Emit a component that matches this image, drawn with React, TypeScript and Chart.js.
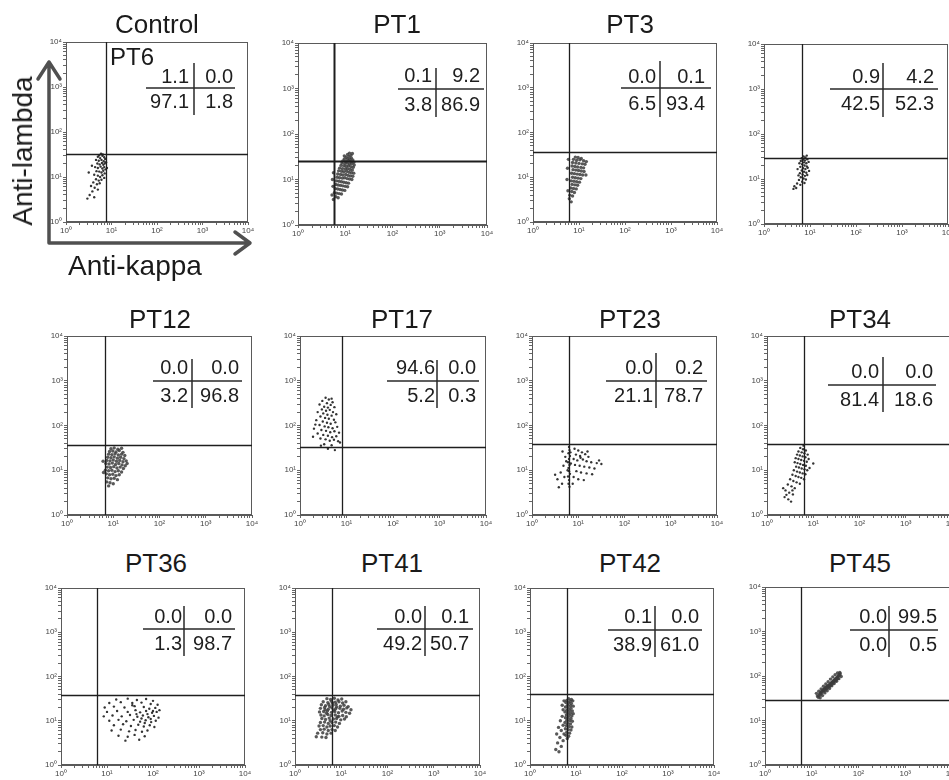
import { useEffect, useRef } from 'react';
import { Chart, registerables } from 'chart.js';

Chart.register(...registerables);

// ---------------- DATA ----------------
// Panel order: row by row (4 per row)
const PANEL_IDS = ['Control', 'PT1', 'PT3', 'PT6', 'PT12', 'PT17', 'PT23', 'PT34', 'PT36', 'PT41', 'PT42', 'PT45'];
// Titles printed above each panel (PT6's label sits inside the Control panel in the original)
const PANEL_TITLES = ['Control', 'PT1', 'PT3', '', 'PT12', 'PT17', 'PT23', 'PT34', 'PT36', 'PT41', 'PT42', 'PT45'];
const STRAY_LABEL = 'PT6';

// Quadrant percentages: [upper-left, upper-right, lower-left, lower-right]
const QUADRANTS: [string, string, string, string][] = [
  ['1.1', '0.0', '97.1', '1.8'],
  ['0.1', '9.2', '3.8', '86.9'],
  ['0.0', '0.1', '6.5', '93.4'],
  ['0.9', '4.2', '42.5', '52.3'],
  ['0.0', '0.0', '3.2', '96.8'],
  ['94.6', '0.0', '5.2', '0.3'],
  ['0.0', '0.2', '21.1', '78.7'],
  ['0.0', '0.0', '81.4', '18.6'],
  ['0.0', '0.0', '1.3', '98.7'],
  ['0.0', '0.1', '49.2', '50.7'],
  ['0.1', '0.0', '38.9', '61.0'],
  ['0.0', '99.5', '0.0', '0.5'],
];

// Quadrant gate positions (in decades, log10 of fluorescence)
const GATE_KAPPA = [0.88, 0.76, 0.78, 0.83, 0.82, 0.9, 0.8, 0.79, 0.78, 0.8, 0.8, 0.76];
const GATE_LAMBDA = [1.51, 1.41, 1.56, 1.47, 1.56, 1.52, 1.59, 1.59, 1.58, 1.58, 1.6, 1.45];

// Axis decades and tick labels
const DECADES = [0, 1, 2, 3, 4];
const DECADE_LABELS = ['10⁰', '10¹', '10²', '10³', '10⁴'];
const MINOR_MANTISSAS = [2, 3, 4, 5, 6, 7, 8, 9];

// Events: [log10 anti-kappa, log10 anti-lambda]
const CONTROL_EVENTS: [number, number][] = [
  [0.70, 1.45], [0.75, 1.42], [0.80, 1.47], [0.84, 1.44], [0.66, 1.38], [0.72, 1.36], [0.78, 1.38], [0.83, 1.35],
  [0.86, 1.40], [0.69, 1.30], [0.74, 1.28], [0.79, 1.31], [0.82, 1.27], [0.85, 1.30], [0.64, 1.22], [0.70, 1.20],
  [0.76, 1.23], [0.80, 1.19], [0.84, 1.22], [0.87, 1.17], [0.67, 1.13], [0.73, 1.12], [0.78, 1.10], [0.82, 1.14],
  [0.85, 1.08], [0.62, 1.05], [0.70, 1.03], [0.75, 1.00], [0.80, 1.04], [0.84, 0.98], [0.66, 0.95], [0.72, 0.92],
  [0.78, 0.94], [0.60, 0.88], [0.68, 0.84], [0.74, 0.86], [0.55, 0.80], [0.63, 0.76], [0.70, 0.72], [0.58, 0.68],
  [0.52, 0.60], [0.47, 0.52], [0.62, 0.55], [0.77, 1.52], [0.90, 1.20], [0.50, 1.10], [0.57, 1.25], [0.81, 1.50],
  [0.73, 1.48], [0.88, 1.33],
];
const PT1_EVENTS: [number, number][] = [
  [1.02, 1.49], [1.08, 1.50], [1.13, 1.47], [0.98, 1.45], [1.05, 1.45], [1.10, 1.44], [1.16, 1.43], [0.95, 1.41],
  [1.01, 1.40], [1.07, 1.41], [1.12, 1.39], [1.18, 1.38], [0.93, 1.36], [0.99, 1.35], [1.04, 1.36], [1.09, 1.34],
  [1.14, 1.35], [1.19, 1.32], [0.91, 1.31], [0.97, 1.30], [1.02, 1.29], [1.07, 1.30], [1.12, 1.28], [1.17, 1.27],
  [0.88, 1.25], [0.94, 1.24], [1.00, 1.23], [1.05, 1.24], [1.10, 1.22], [1.15, 1.21], [0.86, 1.19], [0.92, 1.18],
  [0.97, 1.17], [1.03, 1.18], [1.08, 1.16], [1.13, 1.15], [1.18, 1.14], [0.84, 1.12], [0.90, 1.11], [0.95, 1.10],
  [1.01, 1.11], [1.06, 1.09], [1.11, 1.08], [1.16, 1.07], [0.83, 1.05], [0.88, 1.04], [0.94, 1.03], [0.99, 1.04],
  [1.04, 1.02], [1.09, 1.01], [1.14, 1.00], [0.82, 0.97], [0.87, 0.96], [0.92, 0.95], [0.97, 0.94], [1.02, 0.93],
  [1.07, 0.92], [0.80, 0.89], [0.85, 0.88], [0.90, 0.87], [0.95, 0.86], [1.00, 0.85], [1.05, 0.84], [0.79, 0.80],
  [0.84, 0.79], [0.89, 0.78], [0.94, 0.77], [0.99, 0.76], [0.77, 0.71], [0.82, 0.70], [0.87, 0.69], [0.92, 0.68],
  [0.80, 0.62], [0.85, 0.60], [0.75, 0.56], [0.72, 0.66], [0.74, 0.85], [0.73, 1.00], [0.75, 1.15], [1.05, 1.55],
  [1.12, 1.53], [0.98, 1.52], [1.15, 1.57], [1.09, 1.58],
];
const PT3_EVENTS: [number, number][] = [
  [0.92, 1.45], [0.98, 1.44], [1.05, 1.42], [0.88, 1.40], [0.95, 1.38], [1.02, 1.39], [1.10, 1.37], [0.86, 1.33],
  [0.93, 1.32], [1.00, 1.31], [1.07, 1.30], [1.13, 1.29], [0.85, 1.25], [0.91, 1.24], [0.97, 1.23], [1.04, 1.22],
  [1.10, 1.21], [0.87, 1.17], [0.93, 1.16], [0.99, 1.15], [1.05, 1.14], [1.11, 1.13], [0.84, 1.09], [0.90, 1.08],
  [0.96, 1.07], [1.02, 1.06], [1.08, 1.05], [0.86, 1.00], [0.92, 0.99], [0.98, 0.98], [1.04, 0.97], [0.83, 0.92],
  [0.89, 0.91], [0.95, 0.90], [1.01, 0.89], [0.85, 0.84], [0.91, 0.83], [0.97, 0.82], [0.82, 0.76], [0.88, 0.75],
  [0.94, 0.74], [0.84, 0.68], [0.90, 0.66], [0.80, 0.60], [0.86, 0.58], [0.79, 0.52], [0.83, 0.45], [0.76, 0.70],
  [0.74, 0.95], [0.75, 1.20], [1.15, 1.05], [1.16, 1.35], [0.77, 1.40],
];
const PT6_EVENTS: [number, number][] = [
  [0.86, 1.50], [0.90, 1.48], [0.82, 1.46], [0.93, 1.52], [0.85, 1.43], [0.89, 1.41], [0.94, 1.44], [0.80, 1.40],
  [0.87, 1.37], [0.92, 1.35], [0.97, 1.38], [0.83, 1.33], [0.88, 1.30], [0.93, 1.28], [0.79, 1.27], [0.85, 1.24],
  [0.90, 1.22], [0.95, 1.25], [0.82, 1.19], [0.87, 1.16], [0.92, 1.14], [0.78, 1.13], [0.84, 1.10], [0.89, 1.07],
  [0.94, 1.09], [0.80, 1.04], [0.86, 1.01], [0.91, 0.99], [0.76, 0.98], [0.83, 0.94], [0.88, 0.91], [0.72, 0.90],
  [0.79, 0.87], [0.66, 0.84], [0.70, 0.80], [0.64, 0.78], [0.75, 1.08], [0.73, 1.22], [0.77, 1.35], [0.98, 1.18],
];
const PT12_EVENTS: [number, number][] = [
  [0.95, 1.48], [1.02, 1.50], [1.10, 1.47], [1.18, 1.49], [0.92, 1.42], [0.99, 1.43], [1.06, 1.41], [1.13, 1.44],
  [1.21, 1.40], [0.90, 1.36], [0.97, 1.35], [1.04, 1.37], [1.11, 1.34], [1.18, 1.36], [1.25, 1.33], [0.88, 1.29],
  [0.95, 1.28], [1.02, 1.30], [1.09, 1.27], [1.16, 1.29], [1.23, 1.26], [0.86, 1.22], [0.93, 1.21], [1.00, 1.23],
  [1.07, 1.20], [1.14, 1.22], [1.21, 1.19], [1.28, 1.21], [0.84, 1.15], [0.91, 1.14], [0.98, 1.16], [1.05, 1.13],
  [1.12, 1.15], [1.19, 1.12], [1.26, 1.10], [0.87, 1.07], [0.94, 1.06], [1.01, 1.08], [1.08, 1.05], [1.15, 1.07],
  [1.22, 1.04], [0.83, 1.00], [0.90, 0.99], [0.97, 1.00], [1.04, 0.97], [1.11, 0.99], [1.18, 0.96], [0.85, 0.92],
  [0.92, 0.90], [0.99, 0.91], [1.06, 0.88], [1.13, 0.90], [0.88, 0.83], [0.95, 0.81], [1.02, 0.82], [1.09, 0.79],
  [0.86, 0.74], [0.93, 0.72], [1.00, 0.70], [0.90, 0.65], [0.79, 0.95], [0.78, 1.20], [1.30, 1.15],
];
const PT17_EVENTS: [number, number][] = [
  [0.55, 2.62], [0.62, 2.58], [0.48, 2.55], [0.70, 2.52], [0.58, 2.50], [0.66, 2.46], [0.42, 2.47], [0.52, 2.42],
  [0.60, 2.40], [0.74, 2.41], [0.47, 2.36], [0.56, 2.33], [0.64, 2.35], [0.71, 2.30], [0.38, 2.30], [0.50, 2.27],
  [0.59, 2.24], [0.68, 2.22], [0.78, 2.25], [0.44, 2.20], [0.54, 2.17], [0.62, 2.15], [0.73, 2.13], [0.35, 2.12],
  [0.49, 2.09], [0.58, 2.06], [0.66, 2.04], [0.76, 2.07], [0.42, 2.01], [0.53, 1.98], [0.61, 1.96], [0.70, 1.94],
  [0.80, 1.97], [0.30, 1.93], [0.46, 1.90], [0.56, 1.88], [0.65, 1.85], [0.74, 1.87], [0.84, 1.84], [0.38, 1.82],
  [0.50, 1.79], [0.60, 1.77], [0.69, 1.74], [0.78, 1.76], [0.44, 1.71], [0.55, 1.69], [0.64, 1.66], [0.73, 1.68],
  [0.82, 1.65], [0.28, 1.75], [0.52, 1.58], [0.68, 1.56], [0.60, 1.48], [0.75, 1.45], [0.45, 1.55], [0.86, 1.62],
  [0.33, 2.02], [0.68, 2.60],
];
const PT23_EVENTS: [number, number][] = [
  [0.80, 1.52], [0.81, 1.45], [0.79, 1.38], [0.82, 1.32], [0.80, 1.25], [0.78, 1.18], [0.81, 1.12], [0.79, 1.05],
  [0.80, 0.98], [0.82, 0.92], [0.78, 0.86], [0.80, 0.78], [0.79, 0.70], [0.81, 0.63], [0.83, 1.40], [0.77, 1.00],
  [0.84, 1.15], [0.92, 1.48], [1.00, 1.44], [1.08, 1.40], [0.95, 1.35], [1.04, 1.32], [1.15, 1.36], [1.22, 1.30],
  [0.90, 1.25], [0.98, 1.22], [1.10, 1.24], [1.18, 1.20], [1.28, 1.18], [1.40, 1.16], [1.50, 1.14], [0.93, 1.12],
  [1.03, 1.10], [1.13, 1.08], [1.24, 1.06], [1.35, 1.04], [0.96, 0.98], [1.06, 0.95], [1.18, 0.93], [1.30, 0.91],
  [0.90, 0.85], [1.00, 0.80], [1.12, 0.78], [0.88, 0.70], [1.05, 1.28], [1.45, 1.22], [1.20, 1.42], [0.72, 1.30],
  [0.68, 1.10], [0.62, 0.95], [0.70, 0.85], [0.55, 0.80], [0.65, 0.70], [0.58, 0.62], [0.74, 1.20], [0.50, 0.90],
  [0.66, 1.42],
];
const PT34_EVENTS: [number, number][] = [
  [0.72, 1.50], [0.78, 1.47], [0.84, 1.44], [0.68, 1.42], [0.75, 1.40], [0.81, 1.38], [0.65, 1.35], [0.71, 1.33],
  [0.77, 1.31], [0.83, 1.29], [0.62, 1.27], [0.68, 1.25], [0.74, 1.23], [0.80, 1.21], [0.86, 1.19], [0.60, 1.18],
  [0.66, 1.16], [0.72, 1.14], [0.78, 1.12], [0.84, 1.10], [0.63, 1.08], [0.69, 1.06], [0.75, 1.04], [0.81, 1.02],
  [0.87, 1.00], [0.58, 1.00], [0.65, 0.97], [0.71, 0.95], [0.77, 0.93], [0.83, 0.91], [0.55, 0.90], [0.62, 0.87],
  [0.68, 0.85], [0.74, 0.83], [0.80, 0.80], [0.50, 0.80], [0.57, 0.76], [0.64, 0.73], [0.71, 0.70], [0.45, 0.68],
  [0.53, 0.64], [0.60, 0.60], [0.40, 0.55], [0.48, 0.50], [0.56, 0.46], [0.38, 0.40], [0.46, 0.35], [0.52, 0.30],
  [0.42, 0.45], [0.35, 0.60], [0.55, 0.55], [0.90, 1.25], [0.92, 1.05], [0.88, 1.35], [1.00, 1.15], [0.79, 1.55],
];
const PT36_EVENTS: [number, number][] = [
  [1.20, 1.48], [1.45, 1.50], [1.65, 1.47], [1.85, 1.49], [2.00, 1.45], [1.05, 1.40], [1.30, 1.42], [1.55, 1.40],
  [1.75, 1.41], [1.95, 1.38], [2.10, 1.36], [0.95, 1.30], [1.15, 1.32], [1.38, 1.30], [1.60, 1.33], [1.80, 1.31],
  [1.92, 1.27], [2.05, 1.29], [2.14, 1.24], [1.00, 1.20], [1.22, 1.22], [1.45, 1.20], [1.62, 1.24], [1.72, 1.19],
  [1.85, 1.22], [1.98, 1.18], [2.08, 1.20], [0.93, 1.10], [1.12, 1.12], [1.32, 1.10], [1.50, 1.13], [1.66, 1.09],
  [1.78, 1.12], [1.90, 1.08], [2.02, 1.11], [2.12, 1.07], [1.05, 1.00], [1.25, 1.02], [1.42, 0.99], [1.58, 1.02],
  [1.72, 0.98], [1.84, 1.01], [1.96, 0.97], [2.06, 1.00], [1.15, 0.90], [1.35, 0.92], [1.52, 0.88], [1.68, 0.91],
  [1.80, 0.87], [1.93, 0.90], [2.03, 0.86], [1.10, 0.78], [1.30, 0.80], [1.48, 0.76], [1.62, 0.79], [1.76, 0.75],
  [1.88, 0.78], [1.25, 0.66], [1.45, 0.64], [1.60, 0.68], [1.82, 0.65], [1.40, 0.55], [1.70, 0.57], [1.55, 1.35],
  [1.88, 1.15], [1.95, 1.04], [1.75, 1.05], [1.64, 1.15], [2.00, 1.22], [1.82, 0.95],
];
const PT41_EVENTS: [number, number][] = [
  [0.69, 1.50], [0.77, 1.48], [0.85, 1.51], [0.93, 1.47], [1.01, 1.49], [0.61, 1.43], [0.71, 1.41], [0.79, 1.44],
  [0.87, 1.42], [0.95, 1.43], [1.03, 1.40], [1.10, 1.43], [0.57, 1.36], [0.66, 1.34], [0.73, 1.37], [0.82, 1.35],
  [0.89, 1.37], [0.98, 1.33], [1.06, 1.35], [1.15, 1.32], [0.55, 1.28], [0.64, 1.30], [0.72, 1.26], [0.80, 1.29],
  [0.88, 1.27], [0.97, 1.28], [1.05, 1.26], [1.12, 1.29], [1.21, 1.25], [0.53, 1.20], [0.62, 1.21], [0.70, 1.22],
  [0.79, 1.19], [0.86, 1.21], [0.94, 1.18], [1.02, 1.22], [1.10, 1.19], [1.18, 1.17], [0.56, 1.13], [0.63, 1.11],
  [0.71, 1.14], [0.78, 1.12], [0.87, 1.13], [0.95, 1.10], [1.03, 1.12], [1.11, 1.09], [0.58, 1.05], [0.66, 1.03],
  [0.74, 1.06], [0.83, 1.04], [0.90, 1.05], [0.99, 1.02], [1.07, 1.04], [0.55, 0.96], [0.64, 0.97], [0.72, 0.94],
  [0.80, 0.96], [0.88, 0.97], [0.96, 0.94], [0.52, 0.88], [0.61, 0.89], [0.69, 0.86], [0.76, 0.88], [0.85, 0.89],
  [0.92, 0.86], [0.55, 0.80], [0.63, 0.81], [0.72, 0.78], [0.80, 0.80], [0.87, 0.78], [0.49, 0.72], [0.60, 0.73],
  [0.69, 0.70], [0.78, 0.72], [0.46, 0.64], [0.58, 0.63], [0.67, 0.62], [0.75, 1.32], [0.84, 1.24], [0.68, 1.17],
  [0.92, 1.09], [0.76, 1.00], [0.81, 1.40], [0.65, 1.25], [0.90, 1.31],
];
const PT42_EVENTS: [number, number][] = [
  [0.84, 1.50], [0.90, 1.48], [0.80, 1.46], [0.87, 1.44], [0.93, 1.45], [0.78, 1.41], [0.84, 1.40], [0.90, 1.39],
  [0.82, 1.35], [0.88, 1.34], [0.94, 1.33], [0.77, 1.31], [0.83, 1.29], [0.89, 1.28], [0.80, 1.24], [0.86, 1.23],
  [0.92, 1.22], [0.76, 1.20], [0.82, 1.18], [0.88, 1.17], [0.94, 1.16], [0.79, 1.13], [0.85, 1.12], [0.91, 1.11],
  [0.77, 1.07], [0.83, 1.06], [0.89, 1.05], [0.80, 1.01], [0.86, 1.00], [0.92, 0.99], [0.76, 0.96], [0.82, 0.94],
  [0.88, 0.93], [0.79, 0.89], [0.85, 0.87], [0.91, 0.86], [0.77, 0.82], [0.83, 0.80], [0.89, 0.79], [0.80, 0.74],
  [0.86, 0.72], [0.78, 0.67], [0.84, 0.65], [0.81, 0.60], [0.72, 1.25], [0.70, 1.10], [0.66, 1.00], [0.72, 0.90],
  [0.62, 0.85], [0.68, 0.78], [0.58, 0.70], [0.65, 0.62], [0.72, 0.55], [0.60, 0.50], [0.68, 0.42], [0.56, 0.35],
  [0.63, 0.30], [0.74, 0.70], [0.70, 1.35], [0.74, 1.45],
];
const PT45_EVENTS: [number, number][] = [
  [1.12, 1.55], [1.15, 1.56], [1.17, 1.60], [1.19, 1.62], [1.21, 1.61], [1.22, 1.66], [1.24, 1.67], [1.26, 1.66],
  [1.27, 1.71], [1.29, 1.72], [1.31, 1.71], [1.32, 1.76], [1.34, 1.77], [1.36, 1.75], [1.37, 1.80], [1.39, 1.81],
  [1.41, 1.79], [1.42, 1.85], [1.44, 1.86], [1.46, 1.84], [1.47, 1.90], [1.49, 1.91], [1.51, 1.89], [1.52, 1.95],
  [1.54, 1.96], [1.56, 1.94], [1.57, 2.00], [1.59, 2.01], [1.61, 2.05], [1.60, 2.08], [1.25, 1.70], [1.30, 1.74],
  [1.35, 1.78], [1.40, 1.83], [1.45, 1.88], [1.50, 1.93], [1.55, 1.98], [1.20, 1.64], [1.33, 1.73], [1.43, 1.82],
  [1.48, 1.88], [1.38, 1.77], [1.28, 1.68], [1.53, 1.92], [1.58, 2.03], [1.18, 1.58], [1.14, 1.52],
  [1.10, 1.61], [1.15, 1.66], [1.20, 1.71], [1.25, 1.77], [1.30, 1.82], [1.35, 1.87], [1.40, 1.93], [1.45, 1.98],
  [1.50, 2.03], [1.55, 2.07], [1.18, 1.51], [1.23, 1.56], [1.28, 1.62], [1.33, 1.67], [1.38, 1.72], [1.43, 1.78],
  [1.48, 1.83], [1.53, 1.88], [1.58, 1.94], [1.63, 1.99],
];

const EVENTS = [
  CONTROL_EVENTS, PT1_EVENTS, PT3_EVENTS, PT6_EVENTS, PT12_EVENTS, PT17_EVENTS,
  PT23_EVENTS, PT34_EVENTS, PT36_EVENTS, PT41_EVENTS, PT42_EVENTS, PT45_EVENTS,
];

// ---------------- LAYOUT (page pixels) ----------------
const BOXES = [
  { l: 66, t: 42, r: 248, b: 222 },
  { l: 298, t: 43, r: 487, b: 225 },
  { l: 533, t: 43, r: 717, b: 222 },
  { l: 764, t: 44, r: 948, b: 224 },
  { l: 67, t: 336, r: 252, b: 515 },
  { l: 300, t: 336, r: 486, b: 515 },
  { l: 532, t: 336, r: 717, b: 515 },
  { l: 767, t: 336, r: 952, b: 515 },
  { l: 61, t: 588, r: 245, b: 765 },
  { l: 295, t: 588, r: 480, b: 765 },
  { l: 530, t: 588, r: 714, b: 765 },
  { l: 765, t: 587, r: 952, b: 765 },
];
// quadrant tables: vx (divider x), hy (divider y), hx0..hx1, vy0..vy1, le/re = right ends of text, b1/b2 = baselines
const TABLES = [
  { vx: 194, hy: 88, hx0: 146, hx1: 235, vy0: 63, vy1: 115, le: 189, re: 233, b1: 83, b2: 108 },
  { vx: 436, hy: 89, hx0: 398, hx1: 484, vy0: 68, vy1: 117, le: 432, re: 480, b1: 82, b2: 111 },
  { vx: 660, hy: 88, hx0: 621, hx1: 711, vy0: 61, vy1: 117, le: 656, re: 705, b1: 83, b2: 110 },
  { vx: 883, hy: 89, hx0: 830, hx1: 938, vy0: 63, vy1: 117, le: 880, re: 934, b1: 83, b2: 110 },
  { vx: 192, hy: 381, hx0: 153, hx1: 242, vy0: 359, vy1: 408, le: 188, re: 239, b1: 374, b2: 402 },
  { vx: 437, hy: 381, hx0: 387, hx1: 479, vy0: 360, vy1: 408, le: 435, re: 476, b1: 374, b2: 402 },
  { vx: 656, hy: 381, hx0: 606, hx1: 707, vy0: 353, vy1: 408, le: 653, re: 703, b1: 374, b2: 402 },
  { vx: 883, hy: 385, hx0: 828, hx1: 936, vy0: 357, vy1: 412, le: 879, re: 933, b1: 378, b2: 406 },
  { vx: 184, hy: 629, hx0: 143, hx1: 235, vy0: 606, vy1: 656, le: 182, re: 232, b1: 623, b2: 650 },
  { vx: 425, hy: 629, hx0: 377, hx1: 473, vy0: 606, vy1: 656, le: 422, re: 469, b1: 623, b2: 650 },
  { vx: 655, hy: 630, hx0: 608, hx1: 702, vy0: 606, vy1: 657, le: 652, re: 699, b1: 623, b2: 651 },
  { vx: 889, hy: 630, hx0: 850, hx1: 938, vy0: 606, vy1: 657, le: 887, re: 937, b1: 623, b2: 651 },
];
const TITLE_POS: [number, number][] = [
  [157, 33], [397, 33], [630, 33], [860, 33],
  [160, 328], [402, 328], [630, 328], [860, 328],
  [156, 572], [392, 572], [630, 572], [860, 572],
];

const FONT = '"Liberation Sans", Arial, Helvetica, sans-serif';
const AXW = 16; // y-axis band width
const AXH = 14; // x-axis band height
const ASC = 0.8465; // baseline offset factor for line-height:1 text

function canvasGeom(i: number) {
  const b = BOXES[i];
  const padL = i === 0 ? b.l - AXW : 8;
  const padT = 8;
  const padR = 10;
  const padB = i === 0 ? 32 : 4;
  const left = b.l - AXW - padL;
  const top = b.t - padT;
  const width = padL + AXW + (b.r - b.l) + padR;
  const height = padT + (b.b - b.t) + AXH + padB;
  return { left, top, width, height, padL, padT, padR, padB };
}

function buildTicks() {
  const t: number[] = [];
  DECADES.forEach((d) => {
    t.push(d);
    if (d < DECADES[DECADES.length - 1]) MINOR_MANTISSAS.forEach((m) => t.push(d + Math.log10(m)));
  });
  return t;
}

function tickLabel(v: number) {
  const r = Math.round(v);
  if (Math.abs(v - r) < 1e-6) return DECADE_LABELS[DECADES.indexOf(r)] ?? '';
  return '';
}

function makeChart(canvas: HTMLCanvasElement, i: number) {
  const g = canvasGeom(i);
  const tbl = TABLES[i];
  const q = QUADRANTS[i];
  const ticks = buildTicks();
  const dense = [1, 2, 4, 9, 10, 11].includes(i);

  const overlay = {
    id: 'overlay' + i,
    afterDatasetsDraw(chart: any) {
      const { ctx, chartArea: a, scales } = chart;
      ctx.save();
      // frame
      ctx.strokeStyle = '#5a5a5a';
      ctx.lineWidth = 1;
      ctx.strokeRect(a.left + 0.5, a.top + 0.5, a.right - a.left - 1, a.bottom - a.top - 1);
      // gates
      const gx = Math.round(scales.x.getPixelForValue(GATE_KAPPA[i])) + 0.5;
      const gy = Math.round(scales.y.getPixelForValue(GATE_LAMBDA[i])) + 0.5;
      ctx.strokeStyle = '#1e1e1e';
      ctx.lineWidth = i === 1 ? 2 : 1.3;
      ctx.beginPath();
      ctx.moveTo(gx, a.top);
      ctx.lineTo(gx, a.bottom);
      ctx.moveTo(a.left, gy);
      ctx.lineTo(a.right, gy);
      ctx.stroke();
      // quadrant table
      const ox = g.left;
      const oy = g.top;
      ctx.strokeStyle = '#2a2a2a';
      ctx.lineWidth = 1.5;
      ctx.beginPath();
      ctx.moveTo(tbl.hx0 - ox, tbl.hy - oy);
      ctx.lineTo(tbl.hx1 - ox, tbl.hy - oy);
      ctx.moveTo(tbl.vx - ox, tbl.vy0 - oy);
      ctx.lineTo(tbl.vx - ox, tbl.vy1 - oy);
      ctx.stroke();
      ctx.fillStyle = '#1e1e1e';
      ctx.font = `20px ${FONT}`;
      ctx.textAlign = 'right';
      ctx.textBaseline = 'alphabetic';
      ctx.fillText(q[0], tbl.le - ox, tbl.b1 - oy);
      ctx.fillText(q[1], tbl.re - ox, tbl.b1 - oy);
      ctx.fillText(q[2], tbl.le - ox, tbl.b2 - oy);
      ctx.fillText(q[3], tbl.re - ox, tbl.b2 - oy);
      // axis arrows for the control panel
      if (i === 0) {
        ctx.strokeStyle = '#505050';
        ctx.lineWidth = 3.5;
        ctx.lineCap = 'round';
        ctx.lineJoin = 'round';
        ctx.beginPath();
        ctx.moveTo(49 - ox, 62 - oy);
        ctx.lineTo(49 - ox, 243 - oy);
        ctx.lineTo(249 - ox, 243 - oy);
        ctx.moveTo(38 - ox, 79 - oy);
        ctx.lineTo(49 - ox, 62 - oy);
        ctx.lineTo(60 - ox, 79 - oy);
        ctx.moveTo(235 - ox, 232 - oy);
        ctx.lineTo(250 - ox, 243 - oy);
        ctx.lineTo(235 - ox, 254 - oy);
        ctx.stroke();
      }
      ctx.restore();
    },
  };

  const axisCommon = (isX: boolean) => ({
    type: 'linear' as const,
    min: 0,
    max: 4,
    afterBuildTicks: (s: any) => {
      s.ticks = ticks.map((v) => ({ value: v }));
    },
    afterFit: (s: any) => {
      if (isX) s.height = AXH;
      else s.width = AXW;
    },
    ticks: {
      autoSkip: false,
      maxRotation: 0,
      minRotation: 0,
      padding: 1,
      color: '#444',
      font: { size: 8, family: FONT },
      callback: (v: any) => tickLabel(Number(v)),
    },
    grid: {
      drawOnChartArea: false,
      drawTicks: true,
      tickLength: 3,
      color: '#666',
      lineWidth: 1,
    },
    border: { display: true, color: '#5a5a5a', width: 1 },
  });

  return new Chart(canvas, {
    type: 'scatter',
    data: {
      datasets: [
        {
          label: PANEL_IDS[i],
          data: EVENTS[i].map(([x, y]) => ({ x, y })),
          pointRadius: dense ? 1.7 : 1.2,
          pointBorderWidth: 0,
          pointBackgroundColor: dense ? 'rgba(60,60,60,0.85)' : 'rgba(30,30,30,0.9)',
          pointHoverRadius: 0,
        },
      ],
    },
    options: {
      responsive: false,
      maintainAspectRatio: false,
      animation: false,
      devicePixelRatio: 1,
      events: [],
      layout: { padding: { left: g.padL, right: g.padR, top: g.padT, bottom: g.padB } },
      plugins: { legend: { display: false }, title: { display: false }, tooltip: { enabled: false } },
      scales: { x: axisCommon(true), y: axisCommon(false) },
    },
    plugins: [overlay],
  } as any);
}

function Panel({ i }: { i: number }) {
  const ref = useRef<HTMLCanvasElement>(null);
  const g = canvasGeom(i);
  useEffect(() => {
    if (!ref.current) return;
    const c = makeChart(ref.current, i);
    return () => c.destroy();
  }, [i]);
  return (
    <canvas
      ref={ref}
      width={g.width}
      height={g.height}
      style={{ position: 'absolute', left: g.left, top: g.top, width: g.width, height: g.height }}
    />
  );
}

function Text({ x, y, size, children, center }: { x: number; y: number; size: number; children: any; center?: boolean }) {
  return (
    <div
      style={{
        position: 'absolute',
        left: x,
        top: y - ASC * size,
        fontSize: size,
        lineHeight: 1,
        whiteSpace: 'nowrap',
        color: '#1a1a1a',
        transform: center ? 'translateX(-50%)' : undefined,
      }}
    >
      {children}
    </div>
  );
}

export default function App() {
  return (
    <div
      style={{
        position: 'fixed',
        left: 0,
        top: 0,
        width: 949,
        height: 780,
        background: '#fff',
        overflow: 'hidden',
        fontFamily: FONT,
      }}
    >
      {PANEL_IDS.map((_, i) => (
        <Panel key={i} i={i} />
      ))}
      {PANEL_TITLES.map((t, i) =>
        t ? (
          <Text key={'t' + i} x={TITLE_POS[i][0]} y={TITLE_POS[i][1]} size={26} center>
            {t}
          </Text>
        ) : null
      )}
      <Text x={110} y={65} size={24}>
        {STRAY_LABEL}
      </Text>
      <Text x={68} y={276} size={28}>
        Anti-kappa
      </Text>
      <div
        style={{
          position: 'absolute',
          left: 23,
          top: 151,
          fontSize: 28,
          lineHeight: 1,
          whiteSpace: 'nowrap',
          color: '#1a1a1a',
          transform: 'translate(-50%, -50%) rotate(-90deg)',
        }}
      >
        Anti-lambda
      </div>
    </div>
  );
}
